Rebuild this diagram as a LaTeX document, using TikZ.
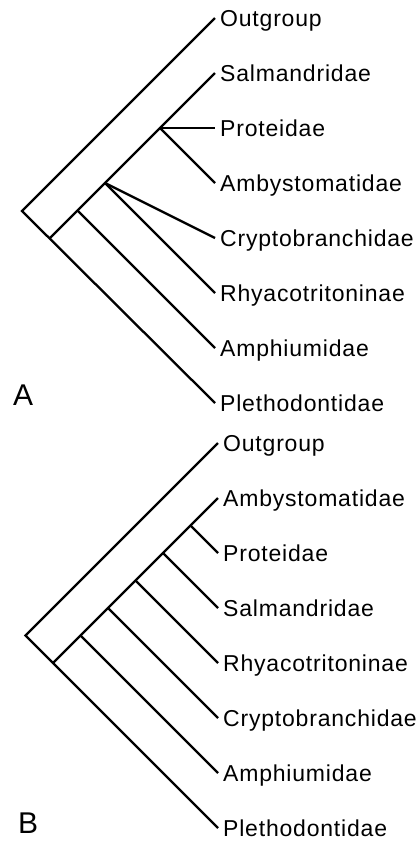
\documentclass[tikz,border=0pt]{standalone}
\usepackage{fontspec}
\setmainfont{Liberation Sans}[LetterSpace=3.5]
\begin{document}
\begin{tikzpicture}[x=1pt,y=-1pt,
  branch/.style={line width=2.3pt},
  taxon/.style={anchor=west,inner xsep=5pt,inner ysep=0pt,text height=16.5pt,text depth=0pt,font=\fontsize{23}{27}\selectfont},
  panel/.style={anchor=base west,inner sep=0pt,font=\fontsize{30}{36}\selectfont}]
\useasboundingbox (0,0) rectangle (419,844);

% A
\coordinate (rA) at (22,211);
\coordinate (n1A) at (49.5,238.5);
\coordinate (n2A) at (77.5,210.5);
\coordinate (n3A) at (105,183);
\coordinate (n4A) at (160,128);
\node[taxon] (outA) at (215,18) {Outgroup};
\node[taxon] (salA) at (215,73) {Salmandridae};
\node[taxon] (proA) at (215,128) {Proteidae};
\node[taxon] (ambA) at (215,183) {Ambystomatidae};
\node[taxon] (cryA) at (215,238) {Cryptobranchidae};
\node[taxon] (rhyA) at (215,293) {Rhyacotritoninae};
\node[taxon] (amphA) at (215,348) {Amphiumidae};
\node[taxon] (pleA) at (215,403) {Plethodontidae};
\draw[branch] (outA.west) -- (rA) -- (pleA.west);
\draw[branch] (n1A) -- (salA.west);
\draw[branch] (n2A) -- (amphA.west);
\draw[branch] (n3A) -- (rhyA.west);
\draw[branch] (n3A) -- (cryA.west);
\draw[branch] (n4A) -- (ambA.west);
\draw[branch] (n4A) -- (proA.west);
\node[panel] (labA) at (13,405) {A};

% B
\coordinate (rB) at (25.5,635.5);
\coordinate (n1B) at (53,663);
\coordinate (n2B) at (80.5,635.5);
\coordinate (n3B) at (108,608);
\coordinate (n4B) at (135.5,580.5);
\coordinate (n5B) at (163,553);
\coordinate (n6B) at (190.5,525.5);
\node[taxon] (outB) at (218,443) {Outgroup};
\node[taxon] (ambB) at (218,498) {Ambystomatidae};
\node[taxon] (proB) at (218,553) {Proteidae};
\node[taxon] (salB) at (218,608) {Salmandridae};
\node[taxon] (rhyB) at (218,663) {Rhyacotritoninae};
\node[taxon] (cryB) at (218,718) {Cryptobranchidae};
\node[taxon] (amphB) at (218,773) {Amphiumidae};
\node[taxon] (pleB) at (218,828) {Plethodontidae};
\draw[branch] (outB.west) -- (rB) -- (pleB.west);
\draw[branch] (n1B) -- (ambB.west);
\draw[branch] (n2B) -- (amphB.west);
\draw[branch] (n3B) -- (cryB.west);
\draw[branch] (n4B) -- (rhyB.west);
\draw[branch] (n5B) -- (salB.west);
\draw[branch] (n6B) -- (proB.west);
\node[panel] (labB) at (18,833) {B};
\end{tikzpicture}
\end{document}
